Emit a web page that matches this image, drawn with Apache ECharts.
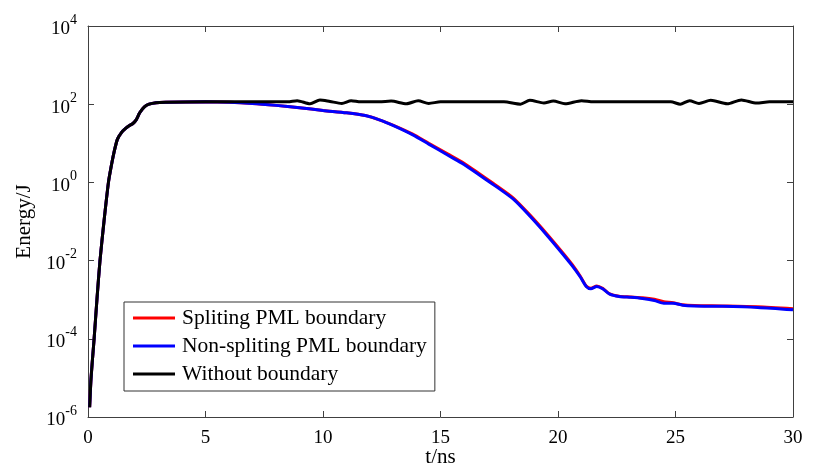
<!DOCTYPE html>
<html>
<head>
<meta charset="utf-8">
<script src="https://cdn.jsdelivr.net/npm/echarts@6/dist/echarts.min.js"></script>
<style>
  html, body { margin: 0; padding: 0; background: #fff; }
  #chart { width: 814px; height: 467px; }
</style>
</head>
<body>
<div id="chart"></div>
<script>
// time in ns, energy stored as log10(E)
var tRise = [0.07, 0.12, 0.18, 0.26, 0.38, 0.51, 0.68, 0.87, 1.0, 1.1, 1.25, 1.43, 1.6, 1.75, 1.9, 2.05, 2.2, 2.4, 2.6, 2.9, 3.3]
var logRise = [-5.75, -5.1, -4.6, -4.0, -3.0, -2.0, -1.0, 0.0, 0.45, 0.75, 1.1, 1.28, 1.38, 1.45, 1.5, 1.6, 1.78, 1.93, 2.0, 2.04, 2.05]

var tPml = [5, 6, 7, 8, 9, 10, 11, 11.8, 12.4, 13, 13.8, 14.5, 15.3, 16, 16.7, 17.4, 18.1, 18.8, 19.5, 20.2, 20.6, 20.95, 21.2, 21.4, 21.65, 21.9, 22.2, 22.6, 23.1, 23.6, 24.1, 24.5, 24.9, 25.3, 25.8, 27, 28.5, 30]
var logSplit = [2.06, 2.05, 2.02, 1.97, 1.91, 1.84, 1.78, 1.71, 1.6, 1.46, 1.24, 1.0, 0.73, 0.49, 0.2, -0.09, -0.4, -0.83, -1.3, -1.8, -2.1, -2.4, -2.65, -2.71, -2.65, -2.71, -2.85, -2.91, -2.93, -2.95, -2.99, -3.05, -3.08, -3.13, -3.15, -3.16, -3.18, -3.23]
var logNonSplit = [2.06, 2.05, 2.02, 1.97, 1.91, 1.84, 1.78, 1.71, 1.6, 1.45, 1.22, 0.98, 0.7, 0.46, 0.17, -0.12, -0.43, -0.86, -1.33, -1.83, -2.13, -2.42, -2.66, -2.72, -2.66, -2.72, -2.86, -2.92, -2.94, -2.97, -3.02, -3.09, -3.09, -3.14, -3.16, -3.17, -3.2, -3.26]

var tFree = [5, 8.5, 8.9, 9.45, 9.87, 10.3, 10.8, 11.2, 11.6, 12.4, 12.9, 13.55, 14.05, 14.5, 15.0, 17.7, 18.4, 18.8, 19.4, 19.8, 20.3, 21.0, 21.5, 24.8, 25.2, 25.6, 26.0, 26.5, 27.2, 27.8, 28.45, 29.0, 30]
var logFree = [2.06, 2.06, 2.09, 2.01, 2.11, 2.07, 2.02, 2.09, 2.06, 2.06, 2.08, 2.01, 2.09, 2.02, 2.06, 2.06, 2.0, 2.1, 2.03, 2.08, 2.01, 2.09, 2.06, 2.06, 2.0, 2.09, 2.02, 2.1, 2.01, 2.11, 2.03, 2.06, 2.06]

var xTicks = [0, 5, 10, 15, 20, 25, 30]
var yExpTicks = [-6, -4, -2, 0, 2, 4]
var names = ['Spliting PML boundary', 'Non-spliting PML boundary', 'Without boundary']
var colors = ['#ff0000', '#0000ff', '#000000']

var font = '"Liberation Serif", "Times New Roman", serif'

function pts(ts, logs) {
  var out = []
  for (var i = 0; i < ts.length; i++) out.push([ts[i], Math.pow(10, logs[i])])
  return out
}

var chart = echarts.init(document.getElementById('chart'), null, { renderer: 'canvas' })

var axisCol = '#404040'
function xAx(pos, labels) {
  return {
    type: 'value', position: pos, min: xTicks[0], max: xTicks[xTicks.length - 1], interval: 5,
    axisLine: { show: true, onZero: false, lineStyle: { color: axisCol, width: 1 } },
    axisTick: { show: true, inside: true, length: 6, lineStyle: { color: axisCol } },
    splitLine: { show: false },
    axisLabel: { show: labels, margin: 12, color: '#000', fontSize: 19, fontFamily: font },
    name: labels ? 't/ns' : '', nameLocation: 'middle', nameGap: 30, nameMoveOverlap: false,
    nameTextStyle: { color: '#000', fontSize: 21, fontFamily: font }
  }
}
function yAx(pos, labels) {
  return {
    type: 'log', logBase: 10, position: pos,
    min: Math.pow(10, yExpTicks[0]), max: Math.pow(10, yExpTicks[yExpTicks.length - 1]),
    interval: 2,
    axisLine: { show: true, onZero: false, lineStyle: { color: axisCol, width: 1 } },
    axisTick: { show: true, inside: true, length: 6, lineStyle: { color: axisCol } },
    minorTick: { show: false },
    splitLine: { show: false },
    axisLabel: {
      show: labels, margin: 11,
      formatter: function (v) {
        var e = Math.round(Math.log10(v))
        return '{b|10}{s|' + e + '}'
      },
      rich: {
        b: { fontSize: 19, fontFamily: font, color: '#000', lineHeight: 26, verticalAlign: 'bottom' },
        s: { fontSize: 14, fontFamily: font, color: '#000', verticalAlign: 'top' }
      }
    },
    name: labels ? 'Energy/J' : '', nameLocation: 'middle', nameGap: 46,
    nameTextStyle: { color: '#000', fontSize: 21, fontFamily: font }
  }
}

function line(i, data) {
  return {
    name: names[i], type: 'line', xAxisIndex: 0, yAxisIndex: 0,
    data: data, showSymbol: false, symbol: 'none',
    smooth: 0.25,
    color: colors[i],
    lineStyle: { color: colors[i], width: 3 },
    z: 2 + i
  }
}

var option = {
  animation: false,
  backgroundColor: '#fff',
  grid: { left: 88, right: 21, top: 26, bottom: 50, containLabel: false, outerBoundsMode: 'none' },
  xAxis: [xAx('bottom', true), xAx('top', false)],
  yAxis: [yAx('left', true), yAx('right', false)],
  legend: {
    data: names, orient: 'vertical', left: 124, top: 302,
    icon: 'rect', itemWidth: 42, itemHeight: 3, itemGap: 6,
    padding: [5, 8, 6, 9],
    backgroundColor: '#fff', borderColor: '#333', borderWidth: 1,
    textStyle: { color: '#000', fontSize: 21.5, fontFamily: font, lineHeight: 21, padding: [0, 0, 0, 2] }
  },
  series: [
    line(0, pts(tRise.concat(tPml), logRise.concat(logSplit))),
    line(1, pts(tRise.concat(tPml), logRise.concat(logNonSplit))),
    line(2, pts(tRise.concat(tFree), logRise.concat(logFree)))
  ]
}
chart.setOption(option)
</script>
</body>
</html>
